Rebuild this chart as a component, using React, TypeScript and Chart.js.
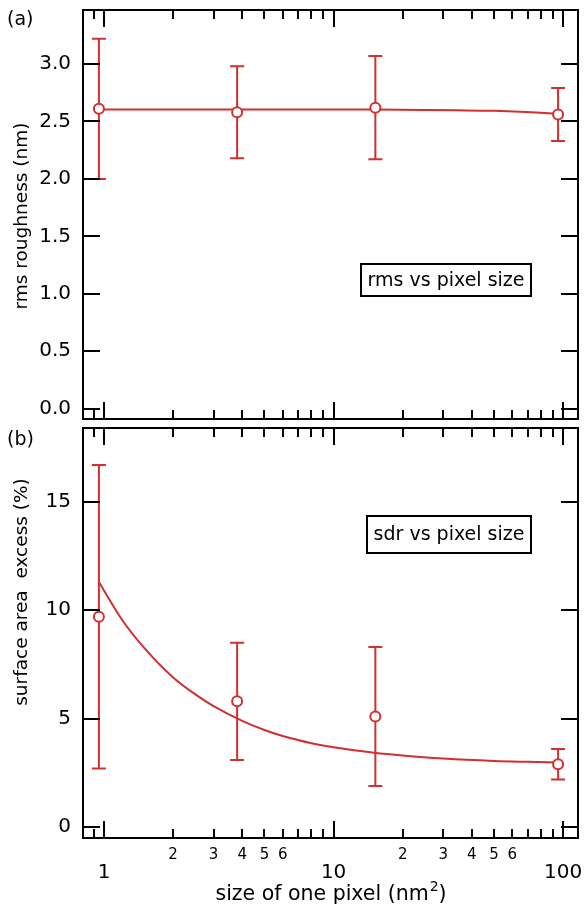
import React, { useEffect, useRef } from 'react';
import { Chart, registerables } from 'chart.js';
Chart.register(...registerables);

// ---- data ----
const pixelSizes = [0.95, 3.8, 15.2, 95];
const rmsValues = [2.61, 2.58, 2.62, 2.56];
const rmsErrors = [0.61, 0.4, 0.45, 0.23];
const sdrValues = [9.7, 5.8, 5.1, 2.9];
const sdrErrors = [7.0, 2.7, 3.2, 0.7];

const rmsFitX = [0.95, 2, 4, 8, 15, 25, 35, 50, 65, 80, 95];
const rmsFitY = [2.605, 2.605, 2.605, 2.604, 2.603, 2.6, 2.597, 2.592, 2.584, 2.575, 2.565];

const sdrFitX = [0.95, 1.2, 1.5, 2, 2.5, 3, 4, 5, 6, 8, 10, 15, 20, 30, 50, 70, 95];
const sdrFitY = [11.3, 9.55, 8.25, 6.9, 6.12, 5.58, 4.9, 4.48, 4.2, 3.87, 3.68, 3.43, 3.3, 3.16, 3.05, 3.01, 2.98];

const xMajorTicks = [1, 10, 100];
const xMinorTicks = [0.9, 2, 3, 4, 5, 6, 7, 8, 9, 20, 30, 40, 50, 60, 70, 80, 90];
const xMinorLabelValues = [2, 3, 4, 5, 6, 20, 30, 40, 50, 60];
const xMinorLabelTexts = ['2', '3', '4', '5', '6', '2', '3', '4', '5', '6'];
const xMajorLabelTexts = ['1', '10', '100'];
const yTicksA = [0, 0.5, 1, 1.5, 2, 2.5, 3];
const yTicksB = [0, 5, 10, 15];

const RED = '#d22f2f';
const FONT = 'DejaVu Sans';

function makePlugin(o: any) {
  return {
    id: 'frame' + o.panel,
    beforeDatasetDraw(chart: any, args: any) {
      if (args.index !== 1) return;
      const { ctx, scales } = chart;
      const x = scales.x, y = scales.y;
      ctx.save();
      ctx.strokeStyle = RED;
      ctx.lineWidth = 2;
      o.xs.forEach((xv: number, i: number) => {
        const px = x.getPixelForValue(xv);
        const top = y.getPixelForValue(o.vals[i] + o.errs[i]);
        const bot = y.getPixelForValue(o.vals[i] - o.errs[i]);
        ctx.beginPath();
        ctx.moveTo(px, top); ctx.lineTo(px, bot);
        ctx.moveTo(px - 7, top); ctx.lineTo(px + 7, top);
        ctx.moveTo(px - 7, bot); ctx.lineTo(px + 7, bot);
        ctx.stroke();
      });
      ctx.restore();
    },
    afterDraw(chart: any) {
      const { ctx, chartArea: ca, scales } = chart;
      const x = scales.x, y = scales.y;
      ctx.save();
      ctx.strokeStyle = '#000';
      ctx.lineWidth = 2;
      ctx.strokeRect(ca.left, ca.top, ca.right - ca.left, ca.bottom - ca.top);
      ctx.beginPath();
      o.yTicks.forEach((v: number) => {
        const py = Math.round(y.getPixelForValue(v));
        ctx.moveTo(ca.left, py); ctx.lineTo(ca.left + 17, py);
        ctx.moveTo(ca.right - 17, py); ctx.lineTo(ca.right, py);
      });
      const xt = (vals: number[], len: number) => vals.forEach((v) => {
        const px = Math.round(x.getPixelForValue(v));
        ctx.moveTo(px, ca.top); ctx.lineTo(px, ca.top + len);
        ctx.moveTo(px, ca.bottom); ctx.lineTo(px, ca.bottom - len);
      });
      xt(xMajorTicks, 17);
      xt(xMinorTicks, 9);
      ctx.stroke();

      ctx.fillStyle = '#000';
      ctx.font = `19px "${FONT}"`;
      ctx.textAlign = 'left';
      ctx.textBaseline = 'middle';
      ctx.fillText(o.panel, 7, o.panelY);

      ctx.save();
      ctx.font = `18.5px "${FONT}"`;
      ctx.translate(22, o.titleY);
      ctx.rotate(-Math.PI / 2);
      ctx.textAlign = 'center';
      ctx.textBaseline = 'middle';
      ctx.fillText(o.yTitle, 0, 0);
      ctx.restore();

      const b = o.box;
      ctx.lineWidth = 2;
      ctx.strokeRect(b.x, b.y, b.w, b.h);
      ctx.font = `19px "${FONT}"`;
      ctx.textAlign = 'center';
      ctx.textBaseline = 'middle';
      ctx.fillText(b.text, b.x + b.w / 2, b.y + b.h / 2 + 1);

      if (o.xLabels) {
        ctx.textAlign = 'center';
        ctx.textBaseline = 'middle';
        ctx.font = `15px "${FONT}"`;
        xMinorLabelValues.forEach((v, i) => {
          ctx.fillText(xMinorLabelTexts[i], x.getPixelForValue(v), ca.bottom + 17);
        });
        ctx.font = `20px "${FONT}"`;
        xMajorTicks.forEach((v, i) => {
          ctx.fillText(xMajorLabelTexts[i], x.getPixelForValue(v), ca.bottom + 35);
        });
        const main = 'size of one pixel (nm';
        ctx.font = `20.5px "${FONT}"`;
        const w1 = ctx.measureText(main).width;
        const w3 = ctx.measureText(')').width;
        ctx.font = `14px "${FONT}"`;
        const w2 = ctx.measureText('2').width;
        const cx = (ca.left + ca.right) / 2;
        const sx = cx - (w1 + w2 + w3) / 2;
        const ty = ca.bottom + 57;
        ctx.textAlign = 'left';
        ctx.font = `20.5px "${FONT}"`;
        ctx.fillText(main, sx, ty);
        ctx.font = `14px "${FONT}"`;
        ctx.fillText('2', sx + w1 + 1, ty - 8);
        ctx.font = `20.5px "${FONT}"`;
        ctx.fillText(')', sx + w1 + w2 + 1, ty);
      }
      ctx.restore();
    },
  };
}

function makeConfig(o: any) {
  return {
    type: 'scatter',
    data: {
      datasets: [
        {
          data: o.fitX.map((xv: number, i: number) => ({ x: xv, y: o.fitY[i] })),
          showLine: true,
          borderColor: RED,
          borderWidth: 2,
          pointRadius: 0,
          cubicInterpolationMode: 'monotone',
          fill: false,
          order: 2,
        },
        {
          data: o.xs.map((xv: number, i: number) => ({ x: xv, y: o.vals[i] })),
          showLine: false,
          pointRadius: 5,
          pointBorderWidth: 2,
          pointBorderColor: RED,
          pointBackgroundColor: '#fff',
          order: 1,
        },
      ],
    },
    options: {
      animation: false,
      responsive: false,
      devicePixelRatio: 1,
      events: [],
      layout: { padding: o.padding, autoPadding: false },
      plugins: { legend: { display: false }, tooltip: { enabled: false } },
      scales: {
        x: { type: 'logarithmic', min: 0.81, max: 116, display: false },
        y: {
          type: 'linear',
          min: o.yMin,
          max: o.yMax,
          grid: { display: false, drawTicks: false },
          border: { display: false },
          ticks: {
            padding: 12,
            color: '#000',
            font: { family: FONT, size: 20 },
            callback: (v: any) => o.fmt(Number(v)),
          },
          afterBuildTicks: (s: any) => { s.ticks = o.yTicks.map((v: number) => ({ value: v })); },
          afterFit: (s: any) => { s.width = 83; s.paddingTop = 0; s.paddingBottom = 0; },
        },
      },
    },
    plugins: [makePlugin(o)],
  };
}

export default function App() {
  const refA = useRef<HTMLCanvasElement>(null);
  const refB = useRef<HTMLCanvasElement>(null);

  useEffect(() => {
    const a = new Chart(refA.current as any, makeConfig({
      panel: '(a)', panelY: 20,
      xs: pixelSizes, vals: rmsValues, errs: rmsErrors,
      fitX: rmsFitX, fitY: rmsFitY,
      yMin: -0.09, yMax: 3.47, yTicks: yTicksA,
      fmt: (v: number) => v.toFixed(1),
      padding: { top: 10, right: 6, bottom: 5, left: 0 },
      yTitle: 'rms roughness (nm)', titleY: 216,
      box: { x: 361, y: 264, w: 170, h: 32, text: 'rms vs pixel size' },
      xLabels: false,
    }) as any);
    const b = new Chart(refB.current as any, makeConfig({
      panel: '(b)', panelY: 16,
      xs: pixelSizes, vals: sdrValues, errs: sdrErrors,
      fitX: sdrFitX, fitY: sdrFitY,
      yMin: -0.5, yMax: 18.4, yTicks: yTicksB,
      fmt: (v: number) => String(Math.round(v)),
      padding: { top: 4, right: 6, bottom: 68, left: 0 },
      yTitle: 'surface area  excess (%)', titleY: 168,
      box: { x: 367, y: 92, w: 164, h: 37, text: 'sdr vs pixel size' },
      xLabels: true,
    }) as any);
    return () => { a.destroy(); b.destroy(); };
  }, []);

  return (
    <div style={{ position: 'absolute', left: 0, top: 0, width: 584, height: 906, background: '#fff' }}>
      <canvas ref={refA} width={584} height={424} style={{ display: 'block', width: 584, height: 424 }} />
      <canvas ref={refB} width={584} height={482} style={{ display: 'block', width: 584, height: 482 }} />
    </div>
  );
}
